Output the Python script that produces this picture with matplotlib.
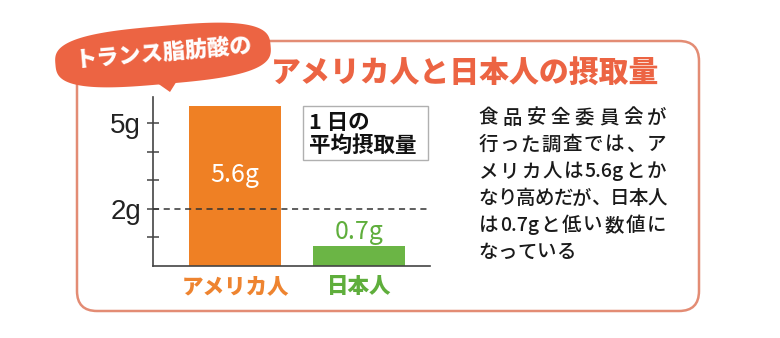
import numpy as np
import matplotlib
matplotlib.use("Agg")
import matplotlib.pyplot as plt
from matplotlib.patches import FancyBboxPatch, Polygon, Rectangle
import re

plt.rcParams['font.family'] = ['Noto Sans CJK JP', 'DejaVu Sans']

# ---- data ----
categories = ['アメリカ人', '日本人']
values = [5.6, 0.7]
value_labels = ['5.6g', '0.7g']
ytick_values = [1, 2, 3, 4, 5]
ytick_labels = ['', '2g', '', '', '5g']
reference_value = 2
bubble_text = 'トランス脂肪酸の'
title_text = 'アメリカ人と日本人の摂取量'
legend_text = '1 日の\n平均摂取量'
note_lines = ['食品安全委員会が', '行った調査では、ア', 'メリカ人は5.6gとか',
              'なり高めだが、日本人', 'は0.7gと低い数値に', 'なっている']

# ---- colours ----
orange = '#EF8024'
green = '#6BB545'
green_text = '#5FAE3C'
orange_text = '#EE8430'
red = '#EC6443'
border = '#E38C74'

W, H = 780, 338
fig = plt.figure(figsize=(W / 100, H / 100), dpi=100)

# overlay axes in pixel coordinates
ov = fig.add_axes([0, 0, 1, 1], zorder=0)
ov.set_xlim(0, W)
ov.set_ylim(H, 0)
ov.axis('off')

# outer rounded frame
frame = FancyBboxPatch((77, 41), 622, 270, boxstyle='round,pad=0,rounding_size=20',
                       fc='white', ec=border, lw=1.8)
ov.add_patch(frame)

# speech bubble (superellipse)
t = np.linspace(0, 2 * np.pi, 200)
n = 3.0
bx = np.sign(np.cos(t)) * np.abs(np.cos(t)) ** (2 / n) * 108
by = np.sign(np.sin(t)) * np.abs(np.sin(t)) ** (2 / n) * 29
ang = np.deg2rad(-5)
rx = bx * np.cos(ang) - by * np.sin(ang) + 163
ry = bx * np.sin(ang) + by * np.cos(ang) + 55
ov.add_patch(Polygon(np.column_stack([rx, ry]), closed=True, fc=red, ec='none', zorder=3))
ov.add_patch(Polygon([[150, 78], [180, 76], [170, 92]], closed=True, fc=red, ec='none', zorder=3))
ov.text(164, 53, bubble_text, color='white', fontsize=16, fontweight='heavy',
        ha='center', va='center', rotation=5, zorder=4)

# title
ov.text(465, 73, title_text, color=red, fontsize=21.5, fontweight='heavy',
        ha='center', va='center', zorder=4)

# legend box
ov.add_patch(Rectangle((302.5, 106), 125.5, 54, fc='white', ec='#b0b0b0', lw=1.0, zorder=3))
ov.text(309, 134, legend_text, color='#111111', fontsize=15.5, fontweight='bold',
        ha='left', va='center', linespacing=1.08, zorder=4)

# note text: justified lines (last line left aligned)
renderer = fig.canvas.get_renderer()
note_left, note_width = 478.5, 188.0
note_kw = dict(color='#1a1a1a', fontsize=14, fontweight='medium', va='center', ha='left', zorder=4)
for i, line in enumerate(note_lines):
    yy = 118 + 26.9 * i
    units = re.findall(r'[0-9.a-zA-Z]+|.', line)
    texts = [ov.text(0, yy, u, **note_kw) for u in units]
    widths = [tx.get_window_extent(renderer).width for tx in texts]
    last = (i == len(note_lines) - 1)
    gap = 0.0 if last else (note_width - sum(widths)) / max(len(units) - 1, 1)
    xpos = note_left
    for tx, w in zip(texts, widths):
        tx.set_x(xpos)
        xpos += w + gap

# ---- bar chart axes ----
ax = fig.add_axes([153 / W, (H - 265.7) / H, 277 / W, 169 / H], zorder=2)
ax.patch.set_alpha(0)
x = np.arange(len(categories))
bar_colors = [orange, green]
ax.bar(x, values, width=0.745, color=bar_colors, zorder=2)
ax.set_xlim(-0.66, 1.57)
ax.set_ylim(0, 5.93)
ax.axhline(reference_value, color='#333333', lw=1.1, ls=(0, (4, 3)), zorder=3)

for s in ['top', 'right']:
    ax.spines[s].set_visible(False)
for s in ['left', 'bottom']:
    ax.spines[s].set_color('#444444')
    ax.spines[s].set_linewidth(1.2)

ax.set_yticks(ytick_values)
ax.set_yticklabels(ytick_labels)
for lab in ax.get_yticklabels():
    lab.set_fontfamily(['Liberation Sans', 'DejaVu Sans'])
    lab.set_fontsize(20)
    lab.set_color('#222222')
ax.tick_params(axis='y', direction='inout', length=9, width=1.1, color='#444444', pad=4)
ax.set_xticks([])

# value labels
ax.text(x[0], values[0] * 0.57, value_labels[0], color='white', fontsize=18,
        ha='center', va='center', zorder=4)
ax.text(x[1], values[1] + 0.48, value_labels[1], color=green_text, fontsize=18,
        ha='center', va='center', zorder=4)

# category labels
cat_colors = [orange_text, green_text]
for xi, c, col in zip(x, categories, cat_colors):
    ax.text(xi, -0.73, c, color=col, fontsize=15.5, fontweight='heavy',
            ha='center', va='center', transform=ax.transData, clip_on=False)

fig.savefig('out.png', dpi=100)
